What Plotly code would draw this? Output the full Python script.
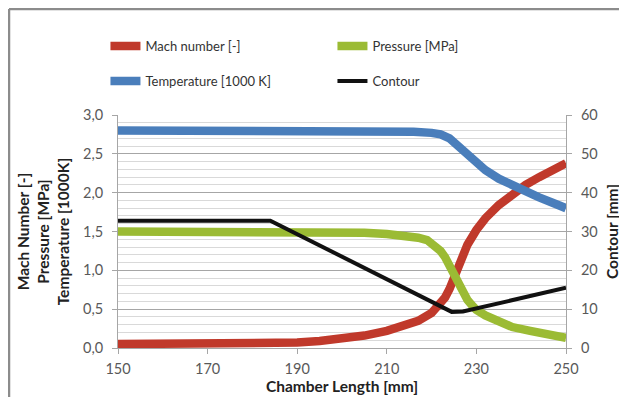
import plotly.graph_objects as go

# ---- data ----
mach_x = [150, 170, 180, 190, 195, 200, 205, 210, 212, 214, 217, 220, 222, 223, 224, 225, 226, 227, 228, 230, 232, 235, 238, 241, 244, 247, 250]
mach_y = [0.05, 0.05, 0.055, 0.07, 0.09, 0.12, 0.16, 0.22, 0.25, 0.29, 0.35, 0.45, 0.57, 0.65, 0.76, 0.9, 1.05, 1.2, 1.33, 1.52, 1.67, 1.84, 1.98, 2.1, 2.2, 2.29, 2.38]

press_x = [150, 190, 200, 205, 210, 214, 217, 219, 221, 222, 223, 224, 225, 226, 227, 228, 229, 230, 232, 235, 238, 242, 246, 250]
press_y = [1.5, 1.5, 1.495, 1.485, 1.468, 1.45, 1.42, 1.39, 1.3, 1.25, 1.17, 1.06, 0.92, 0.8, 0.69, 0.62, 0.55, 0.49, 0.42, 0.33, 0.27, 0.22, 0.17, 0.13]

temp_x = [150, 200, 210, 216, 220, 222, 224, 226, 228, 230, 232, 235, 238, 241, 244, 247, 250]
temp_y = [2.8, 2.8, 2.795, 2.785, 2.77, 2.75, 2.7, 2.6, 2.49, 2.38, 2.29, 2.18, 2.09, 2.01, 1.94, 1.87, 1.8]

cont_x = [150, 184, 224.5, 227, 250]
cont_y = [32.8, 32.8, 9.3, 9.4, 15.5]

x_ticks = [150, 170, 190, 210, 230, 250]

FONT = "Lato"
RED = "#c0392b"
GREEN = "#9bbb34"
BLUE = "#4a7ebb"
BLACK = "#111111"

fig = go.Figure()
fig.add_trace(go.Scatter(x=mach_x, y=mach_y, mode="lines", name="Mach number [-]",
                         line=dict(color=RED, width=8.5), legend="legend"))
fig.add_trace(go.Scatter(x=press_x, y=press_y, mode="lines", name="Pressure [MPa]",
                         line=dict(color=GREEN, width=8.5), legend="legend"))
fig.add_trace(go.Scatter(x=temp_x, y=temp_y, mode="lines", name="Temperature [1000 K]",
                         line=dict(color=BLUE, width=8.5), legend="legend2"))
fig.add_trace(go.Scatter(x=cont_x, y=cont_y, mode="lines", name="Contour", yaxis="y2",
                         line=dict(color=BLACK, width=4), legend="legend2"))

tickfont = dict(family=FONT, size=14.5, color="#595959")
titlefont = dict(family=FONT, size=15.5, color="#222222", weight="bold")
legfont = dict(family=FONT, size=13, color="#333333")

fig.update_layout(
    width=627, height=397,
    margin=dict(l=110, r=69, t=107, b=57),
    paper_bgcolor="white", plot_bgcolor="white",
    separators=",.",
    font=dict(family=FONT, size=13, color="#333333"),
    xaxis=dict(range=[150, 250], tickvals=x_ticks, showgrid=False, zeroline=False,
               showline=True, linecolor="#a6a6a6", linewidth=1,
               ticks="outside", ticklen=5, tickcolor="#a6a6a6",
               tickfont=tickfont, ticklabelstandoff=3,
               title=dict(text="Chamber Length [mm]", font=titlefont, standoff=0)),
    yaxis=dict(range=[0, 3], dtick=0.5, tickformat=".1f", showgrid=True,
               gridcolor="#a6a6a6", gridwidth=1, zeroline=False,
               showline=True, linecolor="#a6a6a6", linewidth=1,
               ticks="outside", ticklen=5, tickcolor="#a6a6a6",
               minor=dict(dtick=0.1, showgrid=True, gridcolor="#d9d9d9", gridwidth=1),
               tickfont=tickfont, ticklabelstandoff=6,
               title=dict(text="Mach Number [-]<br>Pressure [MPa]<br>Temperature [1000K]",
                          font=titlefont, standoff=9)),
    yaxis2=dict(range=[0, 60], dtick=10, overlaying="y", side="right",
                showgrid=False, zeroline=False,
                showline=True, linecolor="#a6a6a6", linewidth=1,
                ticks="outside", ticklen=5, tickcolor="#a6a6a6",
                tickfont=tickfont, ticklabelstandoff=6,
                title=dict(text="Contour [mm]", font=titlefont, standoff=10)),
    legend=dict(orientation="h", x=-0.028, y=1.296, xanchor="left", yanchor="middle",
                entrywidth=182, entrywidthmode="pixels",
                font=legfont, bgcolor="rgba(0,0,0,0)"),
    legend2=dict(orientation="h", x=-0.028, y=1.146, xanchor="left", yanchor="middle",
                 entrywidth=182, entrywidthmode="pixels",
                 font=legfont, bgcolor="rgba(0,0,0,0)"),
    shapes=[
        dict(type="line", xref="paper", yref="paper", x0=-0.2433, x1=1.2, y0=1.455, y1=1.455,
             line=dict(color="#8c8c8c", width=2.5)),
        dict(type="line", xref="paper", yref="paper", x0=-0.2433, x1=-0.2433, y0=1.455, y1=-0.3,
             line=dict(color="#8c8c8c", width=2.5)),
    ],
)

fig.write_html("out.html")
